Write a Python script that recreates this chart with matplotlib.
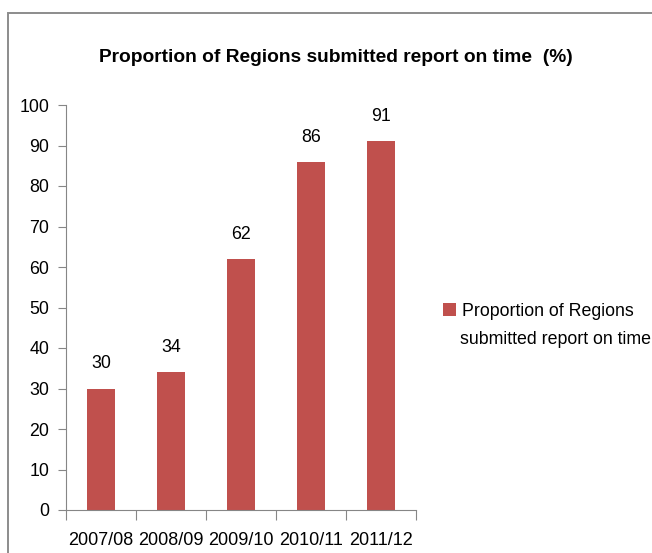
import matplotlib.pyplot as plt
from matplotlib.patches import Rectangle

# data
years = ["2007/08", "2008/09", "2009/10", "2010/11", "2011/12"]
values = [30, 34, 62, 86, 91]
series_name = ["Proportion of Regions", "submitted report on time"]

plt.rcParams['font.family'] = ['Liberation Sans', 'DejaVu Sans']

fig = plt.figure(figsize=(6.52, 5.53), dpi=100)

# chart border like the excel chart area
W, H = 652, 553
fig.patches.append(Rectangle((8 / W, -0.1), 1.2, (H - 13) / H + 0.1,
                             transform=fig.transFigure, fill=False,
                             edgecolor='#8c8c8c', linewidth=1.4))

ax = fig.add_axes([66 / W, (H - 510) / H, 350 / W, 405 / H])
x = range(len(years))
bars = ax.bar(x, values, width=0.4, color='#C0504D', label=series_name[0])

for xi, v in zip(x, values):
    ax.text(xi, v + 4, str(v), ha='center', va='bottom', fontsize=12.8)

ax.set_ylim(0, 100)
ax.set_yticks(range(0, 101, 10))
ax.set_xlim(-0.5, len(years) - 0.5)
ax.set_xticks([i - 0.5 for i in range(len(years) + 1)], minor=False)
ax.set_xticklabels([])
ax.set_xticks(list(x), minor=True)
ax.set_xticklabels(years, minor=True)
ax.tick_params(axis='x', which='major', length=7, color='#868686', direction='out')
ax.tick_params(axis='x', which='minor', length=0, pad=16, labelsize=13)
ax.tick_params(axis='y', length=6, color='#868686', labelsize=12.8, pad=6)

for side in ['top', 'right']:
    ax.spines[side].set_visible(False)
ax.spines['left'].set_color('#868686')
ax.spines['bottom'].set_color('#868686')

fig.text(336 / W, 1 - 57 / H, "Proportion of Regions submitted report on time  (%)",
         ha='center', va='center', fontsize=13.8, fontweight='bold')

# legend: marker sits on the first line, label wraps to a second line
fig.legend(loc='center left', bbox_to_anchor=(443 / W, 1 - 311 / H),
           frameon=False, fontsize=12.8, handlelength=0.75, handleheight=0.75,
           handletextpad=0.3, borderaxespad=0, borderpad=0)
fig.text(460 / W, 1 - 340 / H, series_name[1], ha='left', va='center', fontsize=12.8)

plt.savefig("out.png", dpi=100)
